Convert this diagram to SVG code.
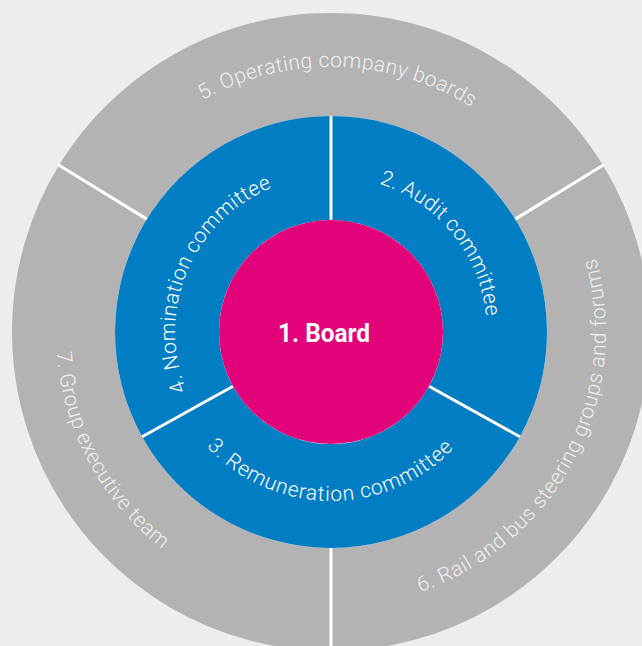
<svg xmlns="http://www.w3.org/2000/svg" width="642" height="646" viewBox="0 0 642 646">
  <style>
    .outer { fill: #b3b3b3; }
    .inner { fill: #017dc3; }
    .core { fill: #e2037a; }
    .divider { stroke: #ffffff; stroke-width: 3; stroke-linecap: butt; fill: none; }
    .lbl { font-family: Roboto, "Liberation Sans", sans-serif; font-weight: 300; font-size: 21px; }
    .on-grey { fill: #efefef; }
    .on-blue { fill: #ffffff; }
    .title { font-family: Roboto, "Liberation Sans", sans-serif; font-weight: 700; font-size: 26px; fill: #ffffff; }
  </style>
  <defs>
    <!-- baseline arcs, centre (331,332) -->
    <path id="arc-operating" d="M202.5,100.2 A265,265 0 0 1 471.4,107.3"/>
    <path id="arc-rail" d="M420.1,592.2 A275,275 0 0 0 595.7,257.6"/>
    <path id="arc-exec" d="M56.7,352.1 A275,275 0 0 0 162.5,549.3"/>
    <path id="arc-audit" d="M379.2,183.6 A156,156 0 0 1 486.1,315.7"/>
    <path id="arc-remuneration" d="M206.6,446.4 A169,169 0 0 0 453.4,448.5"/>
    <path id="arc-nomination" d="M186.4,390.4 A156,156 0 0 1 271.3,187.9"/>
  </defs>

  <rect width="642" height="646" fill="#ededed"/>

  <!-- outer ring -->
  <g id="operating-boards">
    <path class="outer" d="M59,165.3 A319,319 0 0 1 603,165.3 L515.2,219.1 A216,216 0 0 0 146.8,219.1 Z"/>
    <text class="lbl on-grey"><textPath href="#arc-operating" textLength="282" lengthAdjust="spacing">5. Operating company boards</textPath></text>
  </g>
  <g id="rail-bus-groups">
    <path class="outer" d="M603,165.3 A319,319 0 0 1 331,651 L331,548 A216,216 0 0 0 515.2,219.1 Z"/>
    <text class="lbl on-grey"><textPath href="#arc-rail" textLength="416" lengthAdjust="spacing">6. Rail and bus steering groups and forums</textPath></text>
  </g>
  <g id="group-executive">
    <path class="outer" d="M331,651 A319,319 0 0 1 59,165.3 L146.8,219.1 A216,216 0 0 0 331,548 Z"/>
    <text class="lbl on-grey"><textPath href="#arc-exec" textLength="230" lengthAdjust="spacing">7. Group executive team</textPath></text>
  </g>

  <!-- committee ring -->
  <g id="audit-committee">
    <path class="inner" d="M331,116 A216,216 0 0 1 519.9,436.7 L429,386.3 A112,112 0 0 0 331,220 Z"/>
    <text class="lbl on-blue"><textPath href="#arc-audit" textLength="180" lengthAdjust="spacing">2. Audit committee</textPath></text>
  </g>
  <g id="remuneration-committee">
    <path class="inner" d="M519.9,436.7 A216,216 0 0 1 142.1,436.7 L233,386.3 A112,112 0 0 0 429,386.3 Z"/>
    <text class="lbl on-blue"><textPath href="#arc-remuneration" textLength="277" lengthAdjust="spacing">3. Remuneration committee</textPath></text>
  </g>
  <g id="nomination-committee">
    <path class="inner" d="M142.1,436.7 A216,216 0 0 1 331,116 L331,220 A112,112 0 0 0 233,386.3 Z"/>
    <text class="lbl on-blue"><textPath href="#arc-nomination" textLength="244" lengthAdjust="spacing">4. Nomination committee</textPath></text>
  </g>

  <!-- separators between segments -->
  <g id="dividers">
    <line class="divider" x1="331" y1="116" x2="331" y2="222"/>
    <line class="divider" x1="429" y1="386.3" x2="519.9" y2="436.7"/>
    <line class="divider" x1="233" y1="386.3" x2="142.1" y2="436.7"/>
    <line class="divider" x1="146.8" y1="219.1" x2="58.2" y2="164.8"/>
    <line class="divider" x1="515.2" y1="219.1" x2="603.8" y2="164.8"/>
    <line class="divider" x1="331" y1="548" x2="331" y2="652"/>
  </g>

  <!-- centre -->
  <g id="board">
    <circle class="core" cx="331" cy="332" r="112"/>
    <text class="title" x="324" y="342" text-anchor="middle" textLength="92" lengthAdjust="spacingAndGlyphs">1. Board</text>
  </g>
</svg>
